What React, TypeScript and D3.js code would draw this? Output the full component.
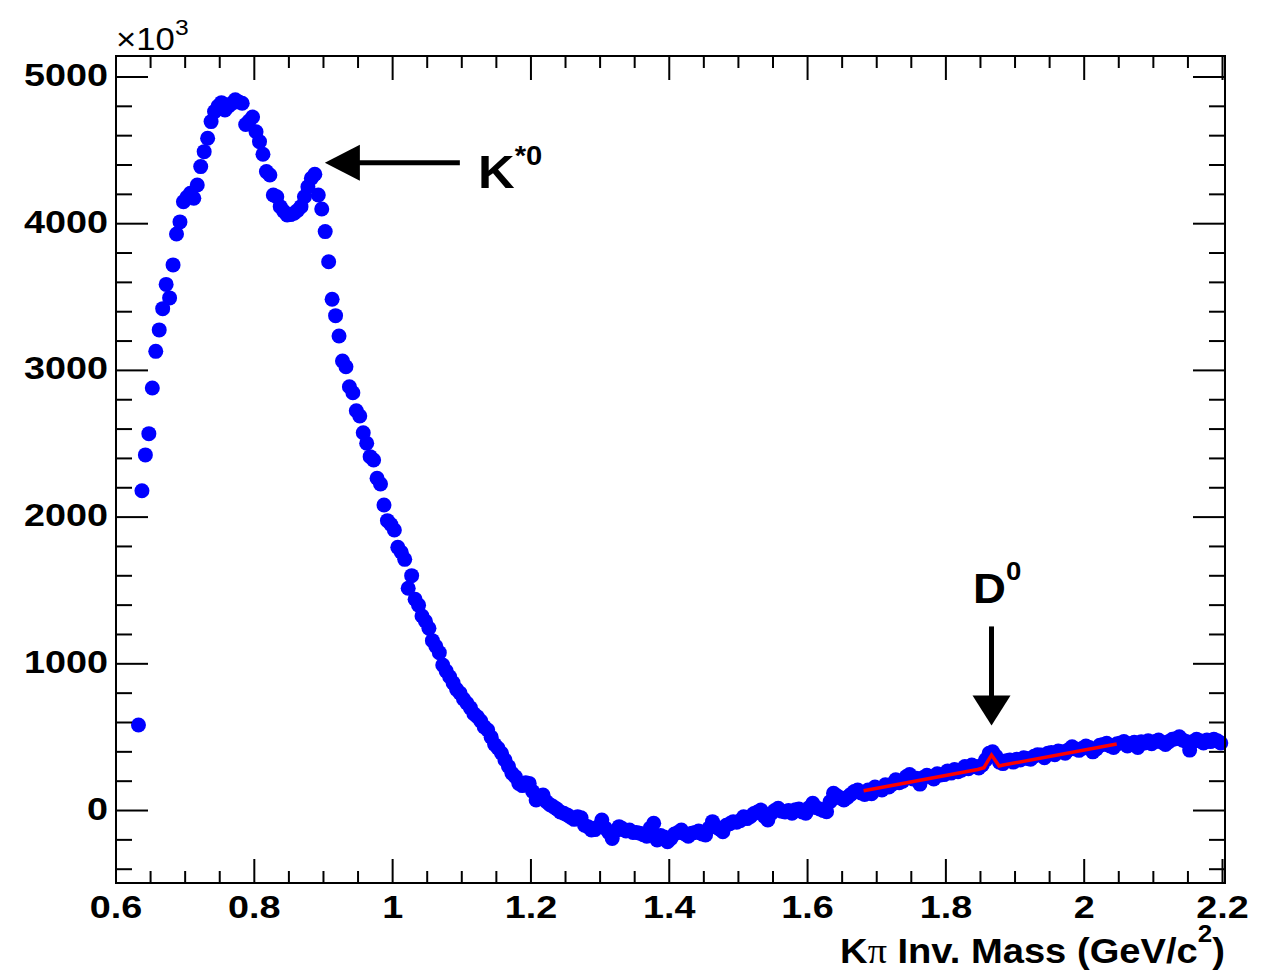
import React from 'react';
import * as d3 from 'd3';

// Kpi invariant mass, 5 MeV bins starting at 0.6325 GeV/c^2 (counts in units of 10^3)
const binStart = 0.6325;
const binWidth = 0.005;
const counts = [
  583, 2180, 2424, 2569, 2880, 3130, 3276, 3421, 3586, 3494,
  3719, 3930, 4012, 4150, 4180, 4207, 4173, 4264, 4389, 4491,
  4582, 4696, 4764, 4800, 4825, 4775, 4800, 4820, 4844, 4830,
  4821, 4676, 4700, 4727, 4627, 4559, 4473, 4355, 4332, 4196,
  4184, 4116, 4085, 4060, 4062, 4071, 4090, 4116, 4184, 4252,
  4310, 4337, 4196, 4100, 3946, 3741, 3485, 3373, 3234, 3064,
  3025, 2889, 2848, 2725, 2689, 2575, 2503, 2412, 2389, 2265,
  2226, 2083, 1976, 1950, 1912, 1794, 1760, 1712, 1515, 1601,
  1440, 1400, 1326, 1290, 1242, 1158, 1120, 1076, 992, 950,
  912, 870, 826, 800, 760, 731, 700, 660, 639, 610,
  570, 549, 500, 450, 424, 390, 344, 300, 254, 230,
  185, 170, 190, 185, 130, 72, 90, 106, 60, 40,
  26, 10, -10, -19, -30, -45, -60, -42, -50, -100,
  -110, -133, -130, -110, -65, -120, -150, -190, -140, -110,
  -125, -140, -133, -150, -150, -155, -165, -175, -120, -87,
  -201, -170, -180, -213, -190, -160, -150, -133, -160, -175,
  -155, -150, -140, -160, -167, -120, -76, -110, -125, -144,
  -100, -90, -76, -80, -70, -42, -55, -40, -20, -10,
  3, -40, -65, -20, 0, 15, -5, -10, 0, -19,
  5, 10, -10, -19, 20, 49, 20, 10, 0, -8,
  60, 117, 100, 85, 72, 90, 110, 130, 140, 120,
  110, 140, 115, 160, 150, 140, 175, 160, 180, 210,
  190, 200, 230, 245, 215, 220, 180, 225, 240, 230,
  215, 250, 242, 245, 270, 255, 280, 265, 275, 300,
  285, 310, 300, 290, 310, 345, 390, 401, 370, 330,
  320, 340, 345, 330, 350, 345, 360, 355, 350, 370,
  380, 378, 360, 390, 395, 380, 405, 400, 390, 415,
  435, 420, 410, 425, 440, 430, 400, 420, 445, 450,
  458, 440, 430, 455, 460, 470, 440, 455, 465, 430,
  469, 460, 475, 455, 470, 480, 465, 450, 470, 485,
  490, 503, 480, 470, 412, 470, 485, 475, 460, 481,
  470, 485, 475, 460,
];

// D0 fit (linear background + peak)
const fitMass = [1.681, 1.846, 1.855, 1.861, 1.866, 1.871, 1.877, 1.883, 2.047];
const fitValue = [135, 280, 292, 340, 378, 345, 303, 310, 453];

const xMajorTicks = [0.6, 0.8, 1.0, 1.2, 1.4, 1.6, 1.8, 2.0, 2.2];
const xTickLabels = ['0.6', '0.8', '1', '1.2', '1.4', '1.6', '1.8', '2', '2.2'];
const yMajorTicks = [0, 1000, 2000, 3000, 4000, 5000];
const yTickLabels = ['0', '1000', '2000', '3000', '4000', '5000'];

const W = 1267;
const H = 970;
const frame = { left: 116, right: 1225, top: 56, bottom: 883 };
const FONT = '"Liberation Sans", Arial, Helvetica, sans-serif';
const SX = 1.18; // reference font is drawn wider than Liberation Sans

export default function App() {
  const x = d3.scaleLinear().domain([0.6, 2.2036]).range([frame.left, frame.right]);
  const y = d3.scaleLinear().domain([-494, 5143]).range([frame.bottom, frame.top]);

  const xMinor = d3.range(0.65, 2.2001, 0.05).filter(
    (v) => !xMajorTicks.some((m) => Math.abs(m - v) < 1e-6)
  );
  const yMinor = d3.range(-400, 5001, 200).filter((v) => v % 1000 !== 0);

  const points = counts.map((c, i) => [binStart + i * binWidth, c] as [number, number]);
  const fitLine = d3
    .line<number>()
    .x((d) => x(d))
    .y((_, i) => y(fitValue[i]));

  // arrows (data coordinates)
  const kTip = [0.902, 4415];
  const kX = x(kTip[0]);
  const kY = y(kTip[1]);
  const dTip = [1.866, 580];
  const dX = x(dTip[0]);
  const dY = y(dTip[1]);

  const stroke = '#000';
  return (
    <svg
      width={W}
      height={H}
      style={{ position: 'absolute', left: 0, top: 0, background: '#fff' }}
    >
      {/* data points */}
      <g fill="#0000ff">
        {points.map(([m, c], i) => (
          <circle key={i} cx={x(m)} cy={y(c)} r={7.5} />
        ))}
      </g>

      {/* fit */}
      <path d={fitLine(fitMass) || ''} fill="none" stroke="#ff0000" strokeWidth={3.5} />

      {/* frame */}
      <rect
        x={frame.left}
        y={frame.top}
        width={frame.right - frame.left}
        height={frame.bottom - frame.top}
        fill="none"
        stroke={stroke}
        strokeWidth={2}
      />

      {/* ticks on all four sides */}
      <g stroke={stroke} strokeWidth={2}>
        {xMajorTicks.map((t) => (
          <g key={'xm' + t}>
            <line x1={x(t)} x2={x(t)} y1={frame.bottom} y2={frame.bottom - 24} />
            <line x1={x(t)} x2={x(t)} y1={frame.top} y2={frame.top + 24} />
          </g>
        ))}
        {xMinor.map((t) => (
          <g key={'xn' + t}>
            <line x1={x(t)} x2={x(t)} y1={frame.bottom} y2={frame.bottom - 12} />
            <line x1={x(t)} x2={x(t)} y1={frame.top} y2={frame.top + 12} />
          </g>
        ))}
        {yMajorTicks.map((t) => (
          <g key={'ym' + t}>
            <line x1={frame.left} x2={frame.left + 32} y1={y(t)} y2={y(t)} />
            <line x1={frame.right} x2={frame.right - 32} y1={y(t)} y2={y(t)} />
          </g>
        ))}
        {yMinor.map((t) => (
          <g key={'yn' + t}>
            <line x1={frame.left} x2={frame.left + 16} y1={y(t)} y2={y(t)} />
            <line x1={frame.right} x2={frame.right - 16} y1={y(t)} y2={y(t)} />
          </g>
        ))}
      </g>

      {/* tick labels */}
      <g fontFamily={FONT} fontWeight="bold" fontSize={32} fill="#000">
        {xMajorTicks.map((t, i) => (
          <text
            key={'xl' + t}
            transform={`translate(${x(t)},918) scale(${SX},1)`}
            textAnchor="middle"
          >
            {xTickLabels[i]}
          </text>
        ))}
        {yMajorTicks.map((t, i) => (
          <text
            key={'yl' + t}
            transform={`translate(108,${y(t) + 9}) scale(${SX},1)`}
            textAnchor="end"
          >
            {yTickLabels[i]}
          </text>
        ))}
      </g>

      {/* exponent */}
      <text
        transform={`translate(116,50) scale(1.12,1)`}
        fontFamily={FONT}
        fontSize={31}
        fill="#000"
      >
        ×10
        <tspan fontSize={22} dy={-15}>
          3
        </tspan>
      </text>

      {/* axis title */}
      <text
        transform={`translate(${frame.right},963) scale(1.09,1)`}
        textAnchor="end"
        fontFamily={FONT}
        fontWeight="bold"
        fontSize={35}
        fill="#000"
      >
        K
        <tspan fontFamily='"Liberation Serif", "Times New Roman", serif' fontWeight="normal">
          π
        </tspan>
        {' Inv. Mass (GeV/c'}
        <tspan fontSize={24} dy={-21}>
          2
        </tspan>
        <tspan dy={21}>)</tspan>
      </text>

      {/* K*0 arrow */}
      <line x1={kX + 30} x2={kX + 135} y1={kY} y2={kY} stroke="#000" strokeWidth={5} />
      <polygon points={`${kX},${kY} ${kX + 35},${kY - 18} ${kX + 35},${kY + 18}`} fill="#000" />
      <text
        transform="translate(478,188) scale(1.08,1)"
        fontFamily={FONT}
        fontWeight="bold"
        fontSize={47}
        fill="#000"
      >
        K
        <tspan fontSize={27} dy={-23}>
          *0
        </tspan>
      </text>

      {/* D0 arrow */}
      <line x1={dX} x2={dX} y1={dY - 99} y2={dY - 25} stroke="#000" strokeWidth={5} />
      <polygon points={`${dX},${dY} ${dX - 19},${dY - 30} ${dX + 19},${dY - 30}`} fill="#000" />
      <text
        transform="translate(973,603) scale(1.06,1)"
        fontFamily={FONT}
        fontWeight="bold"
        fontSize={43}
        fill="#000"
      >
        D
        <tspan fontSize={26} dy={-23}>
          0
        </tspan>
      </text>
    </svg>
  );
}
